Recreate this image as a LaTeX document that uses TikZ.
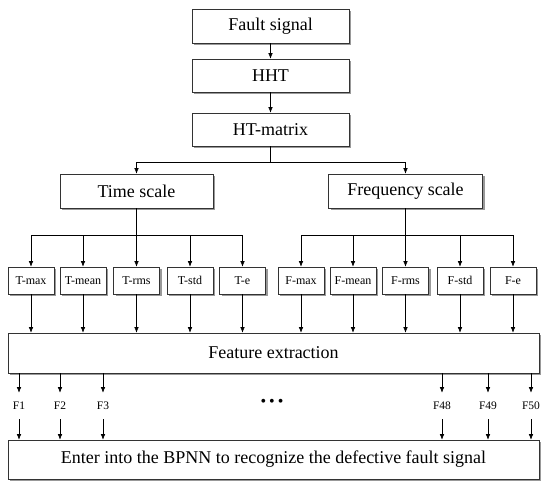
\documentclass[tikz,border=0pt]{standalone}
\usepackage{fontspec}
\setmainfont{Liberation Serif}
\usetikzlibrary{arrows.meta,shadows}
\begin{document}
\begin{tikzpicture}[x=1pt, y=-1pt, line width=0.6pt, >={Latex[length=5.5pt,width=4.5pt]}]
        \tikzset{box/.style={rectangle, draw=black!80, fill=white, inner sep=0pt,
                    drop shadow={shadow xshift=2pt, shadow yshift=-2pt, fill=black!50, opacity=0.8}},
                 bigbox/.style={box, font=\fontsize{18}{20}\selectfont},
                 smallbox/.style={box, minimum width=46pt, minimum height=27pt, font=\fontsize{12}{14}\selectfont},
                 flabel/.style={inner sep=0pt, minimum height=26pt, font=\fontsize{11.5}{13}\selectfont}}
        \useasboundingbox (0,0) rectangle (550,493);
        % main chain
        \node[bigbox, minimum width=157pt, minimum height=34pt] (fault) at (270.5,26) {Fault signal};
        \node[bigbox, minimum width=157pt, minimum height=33pt] (hht) at (270.5,75.5) {HHT};
        \node[bigbox, minimum width=157pt, minimum height=33pt] (htmatrix) at (270.5,129.5) {HT-matrix};
        \node[bigbox, minimum width=153pt, minimum height=34pt] (timescale) at (136.5,191) {Time scale};
        \node[bigbox, minimum width=154pt, minimum height=34pt] (freqscale) at (405.5,191) {Frequency scale};
        \draw[->] (fault) -- (hht);
        \draw[->] (hht) -- (htmatrix);
        \coordinate (split) at (270.5,162);
        \draw (htmatrix) -- (split);
        \draw[->] (split) -| (timescale);
        \draw[->] (split) -| (freqscale);
        % feature boxes
        \node[bigbox, minimum width=531pt, minimum height=40pt] (feature) at (273.5,353) {Feature extraction};
        \node[bigbox, minimum width=531pt, minimum height=39pt] (bpnn) at (273.5,459.5) {Enter into the BPNN to recognize the defective fault signal};
        \coordinate (tsplit) at (136.5,235);
        \coordinate (fsplit) at (405.5,235);
        \draw (timescale) -- (tsplit);
        \draw (freqscale) -- (fsplit);
        \foreach \name/\x/\lab in {tmax/31/T-max, tmean/83/T-mean, trms/136.5/T-rms, tstd/190/T-std, te/242.5/T-e} {
            \node[smallbox] (\name) at (\x,280.5) {\lab};
            \draw[->] (tsplit) -| (\name);
            \draw[->] (\name) -- (\name |- feature.north);
        }
        \foreach \name/\x/\lab in {fmax/301/F-max, fmean/353/F-mean, frms/405.5/F-rms, fstd/460/F-std, fe/513/F-e} {
            \node[smallbox] (\name) at (\x,280.5) {\lab};
            \draw[->] (fsplit) -| (\name);
            \draw[->] (\name) -- (\name |- feature.north);
        }
        % outputs
        \foreach \name/\x/\lab in {f1/19/F1, f2/60/F2, f3/103/F3, f48/442/F48, f49/488/F49, f50/531/F50} {
            \node[flabel] (\name) at (\x,406) {\lab};
            \draw[->] (feature.south -| \name) -- (\name);
            \draw[->] (\name) -- (bpnn.north -| \name);
        }
        \node[flabel, font=\fontsize{16}{18}\selectfont] (dots) at (272,403) {\textbullet\hspace{3pt}\textbullet\hspace{3pt}\textbullet};
    \end{tikzpicture}
\end{document}
